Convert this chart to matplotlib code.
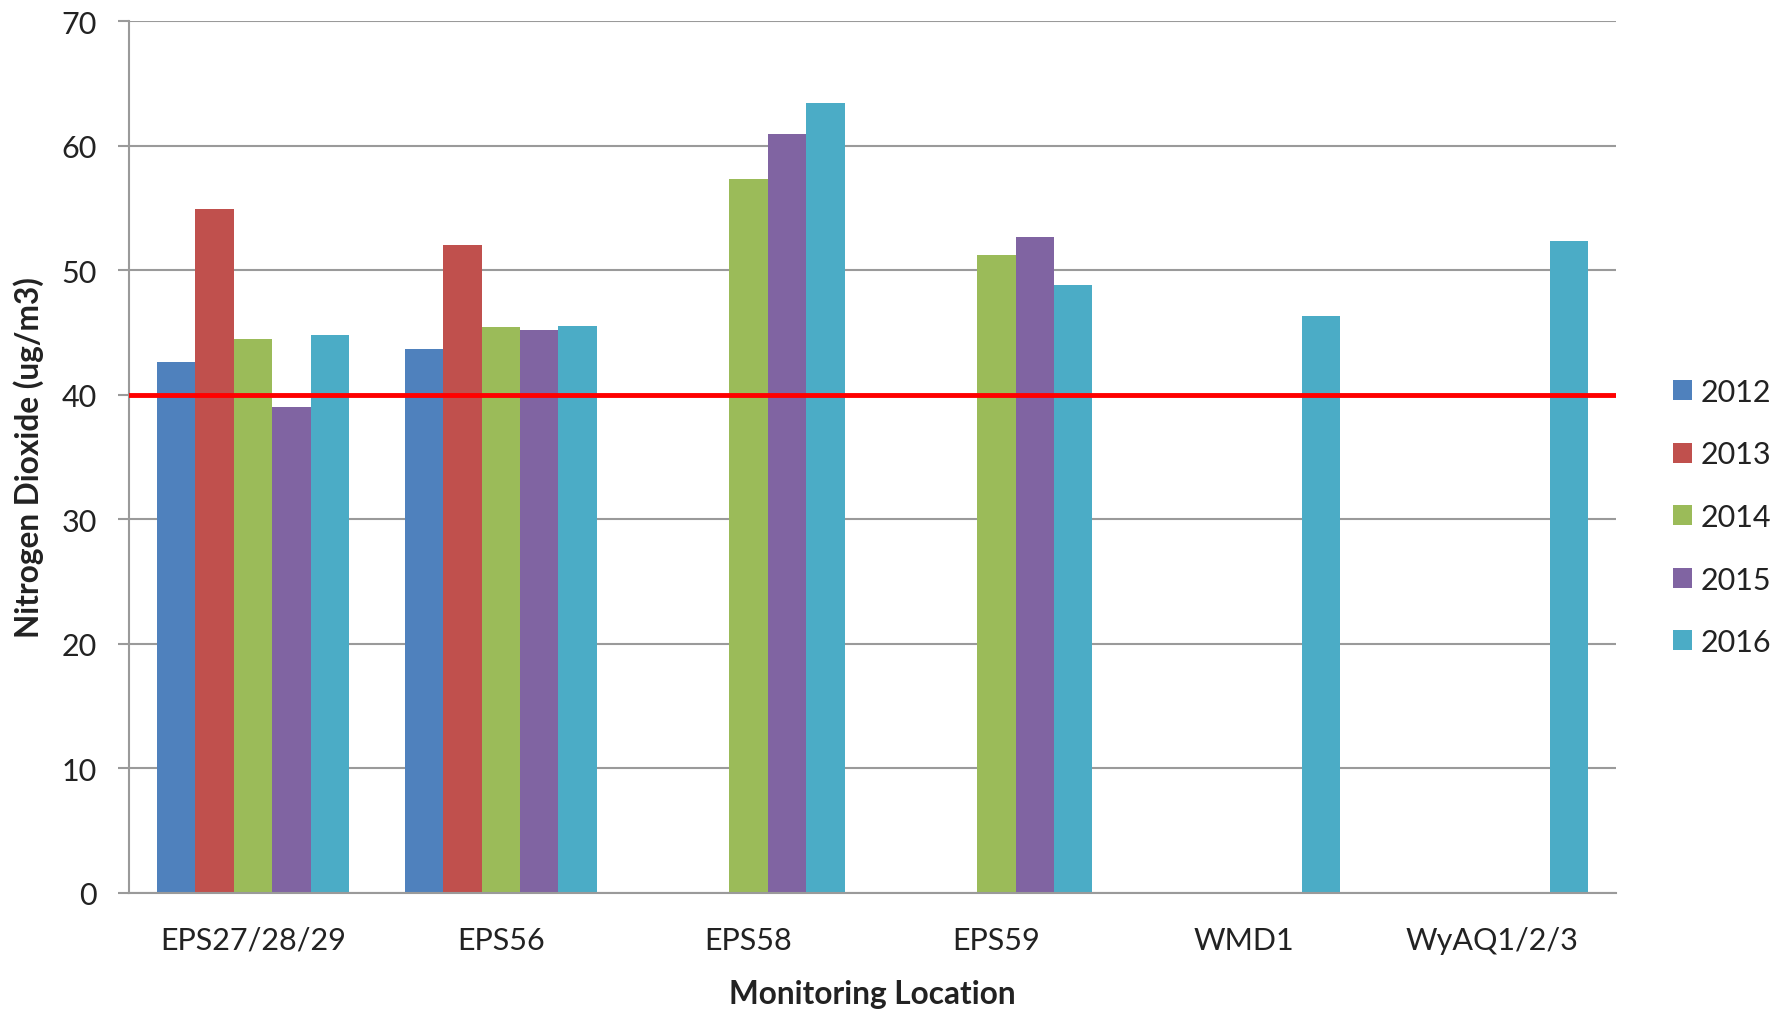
import matplotlib
matplotlib.use("Agg")
import matplotlib.pyplot as plt
import numpy as np


# Annual mean NO2 per monitoring location (nan = no data that year)
locations = ['EPS27/28/29', 'EPS56', 'EPS58', 'EPS59', 'WMD1', 'WyAQ1/2/3']
years = ['2012', '2013', '2014', '2015', '2016']
no2_2012 = [42.6, 43.7, np.nan, np.nan, np.nan, np.nan]
no2_2013 = [54.9, 52.0, np.nan, np.nan, np.nan, np.nan]
no2_2014 = [44.5, 45.4, 57.3, 51.2, np.nan, np.nan]
no2_2015 = [39.0, 45.2, 60.9, 52.7, np.nan, np.nan]
no2_2016 = [44.8, 45.5, 63.4, 48.8, 46.3, 52.3]
limit_value = 40

colors = ['#4F81BD', '#C0504D', '#9BBB59', '#8064A2', '#4BACC6']
TEXT = '#222222'
GRID = '#9A9A9A'
FONT = 'Lato'


def main():
    plt.rcParams['font.family'] = [FONT, 'DejaVu Sans']
    fig = plt.figure(figsize=(17.87, 10.12), dpi=100)
    ax = fig.add_axes([129 / 1787, 1 - 894 / 1012, (1616 - 129) / 1787, (894 - 22) / 1012])

    series = [no2_2012, no2_2013, no2_2014, no2_2015, no2_2016]
    x = np.arange(len(locations))
    width = 0.155
    bars = []
    for i, (vals, c) in enumerate(zip(series, colors)):
        b = ax.bar(x + (i - 2) * width, vals, width, color=c, label=years[i], zorder=2)
        bars.append(b)

    # limit value line
    ax.axhline(limit_value, color='#FF0000', lw=3.5, zorder=3)

    ax.set_xlim(-0.5, len(locations) - 0.5)
    ax.set_ylim(0, 70)
    ax.set_yticks(range(0, 71, 10))
    ax.set_xticks(x)
    ax.set_xticklabels(locations)
    ax.yaxis.grid(True, color=GRID, lw=1.5, zorder=0)
    ax.set_axisbelow(True)

    for s in ['top', 'right']:
        ax.spines[s].set_visible(False)
    for s in ['left', 'bottom']:
        ax.spines[s].set_color(GRID)
        ax.spines[s].set_linewidth(1.5)

    ax.tick_params(axis='y', length=8, width=1.5, color=GRID, pad=15,
                   labelsize=22, labelcolor=TEXT)
    ax.tick_params(axis='x', length=0, pad=23.5, labelsize=22, labelcolor=TEXT)

    ax.set_ylabel('Nitrogen Dioxide (ug/m3)', fontsize=22.8, fontweight='bold', color=TEXT)
    ax.yaxis.set_label_coords(-0.057, 0.5)
    ax.set_xlabel('Monitoring Location', fontsize=22.8, fontweight='bold', color=TEXT)
    ax.xaxis.set_label_coords(0.5, -0.099)

    fig.legend(handles=bars, labels=years, loc='center left',
               bbox_to_anchor=(1673 / 1787, 1 - 518 / 1012),
               frameon=False, fontsize=22, labelcolor=TEXT,
               handlelength=0.62, handleheight=0.62, handletextpad=0.27,
               labelspacing=1.13, borderpad=0, borderaxespad=0)

    fig.savefig('out.png', dpi=100)


if __name__ == '__main__':
    main()
